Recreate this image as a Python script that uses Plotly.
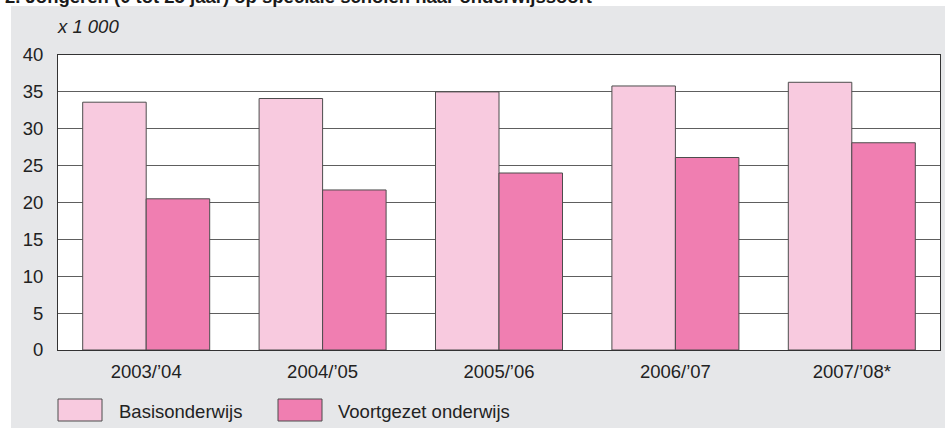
import plotly.graph_objects as go

# ---- data ----
categories = ["2003/’04", "2004/’05", "2005/’06", "2006/’07", "2007/’08*"]
basisonderwijs = [33.6, 34.1, 35.0, 35.8, 36.3]
voortgezet_onderwijs = [20.5, 21.7, 24.0, 26.1, 28.1]
series_names = ["Basisonderwijs", "Voortgezet onderwijs"]
title_text = "2. Jongeren (0 tot 25 jaar) op speciale scholen naar onderwijssoort"
unit_text = "x 1 000"

# ---- style ----
W, H = 945, 428
ML, MR, MT, MB = 58, 5, 55, 78
PW, PH = W - ML - MR, H - MT - MB
LIGHT = "#f8cadf"
DARK = "#f07eb1"
EDGE = "#4d4d4d"
BG = "#e6e7e9"
FONT = "Liberation Sans, Arial, sans-serif"
FS = 18.5


def px(x):
    return (x - ML) / PW


def py(y):
    return (H - MB - y) / PH


fig = go.Figure()
fig.add_trace(go.Bar(x=categories, y=basisonderwijs, name=series_names[0],
                     marker=dict(color=LIGHT, line=dict(color=EDGE, width=1)),
                     showlegend=False))
fig.add_trace(go.Bar(x=categories, y=voortgezet_onderwijs, name=series_names[1],
                     marker=dict(color=DARK, line=dict(color=EDGE, width=1)),
                     showlegend=False))

shapes = [
    # white strips outside the grey panel
    dict(type="rect", xref="paper", yref="paper", x0=px(0), x1=px(W), y0=py(6), y1=py(-5),
         fillcolor="white", line=dict(width=0), layer="below"),
    dict(type="rect", xref="paper", yref="paper", x0=px(-5), x1=px(11), y0=py(H + 5), y1=py(-5),
         fillcolor="white", line=dict(width=0), layer="below"),
    # legend swatches
    dict(type="rect", xref="paper", yref="paper", x0=px(58), x1=px(102), y0=py(421), y1=py(399),
         fillcolor=LIGHT, line=dict(color=EDGE, width=1)),
    dict(type="rect", xref="paper", yref="paper", x0=px(278), x1=px(322), y0=py(421), y1=py(399),
         fillcolor=DARK, line=dict(color=EDGE, width=1)),
]

annotations = [
    dict(text=f"<b>{title_text}</b>", xref="paper", yref="paper", x=px(3), y=py(-4),
         xanchor="left", yanchor="middle", showarrow=False,
         font=dict(family=FONT, size=18.5, color="#1a1a1a")),
    dict(text=f"<i>{unit_text}</i>", xref="paper", yref="paper", x=px(55), y=py(27),
         xanchor="left", yanchor="middle", showarrow=False,
         font=dict(family=FONT, size=FS, color="#222")),
    dict(text=series_names[0], xref="paper", yref="paper", x=px(117), y=py(411),
         xanchor="left", yanchor="middle", showarrow=False,
         font=dict(family=FONT, size=FS, color="#222")),
    dict(text=series_names[1], xref="paper", yref="paper", x=px(336), y=py(411),
         xanchor="left", yanchor="middle", showarrow=False,
         font=dict(family=FONT, size=FS, color="#222")),
]

fig.update_layout(
    width=W, height=H,
    margin=dict(l=ML, r=MR, t=MT, b=MB, pad=0),
    paper_bgcolor=BG, plot_bgcolor="white",
    barmode="group", bargap=0.28, bargroupgap=0,
    font=dict(family=FONT, size=FS, color="#222"),
    shapes=shapes, annotations=annotations,
    showlegend=False,
)
fig.update_xaxes(showline=True, linecolor="#333", linewidth=1, mirror=True,
                 showgrid=False, ticks="", ticklabelstandoff=5,
                 tickfont=dict(family=FONT, size=FS, color="#222"))
fig.update_yaxes(range=[0, 40], dtick=5, showline=True, linecolor="#333", linewidth=1,
                 mirror=True, showgrid=True, gridcolor="#5e5e5e", gridwidth=1,
                 zeroline=False, ticks="", ticklabelstandoff=10,
                 tickfont=dict(family=FONT, size=FS, color="#222"))

fig.write_html("out.html", config={"displayModeBar": False},
               post_script="document.body.style.margin='0';document.body.style.overflow='hidden';")
